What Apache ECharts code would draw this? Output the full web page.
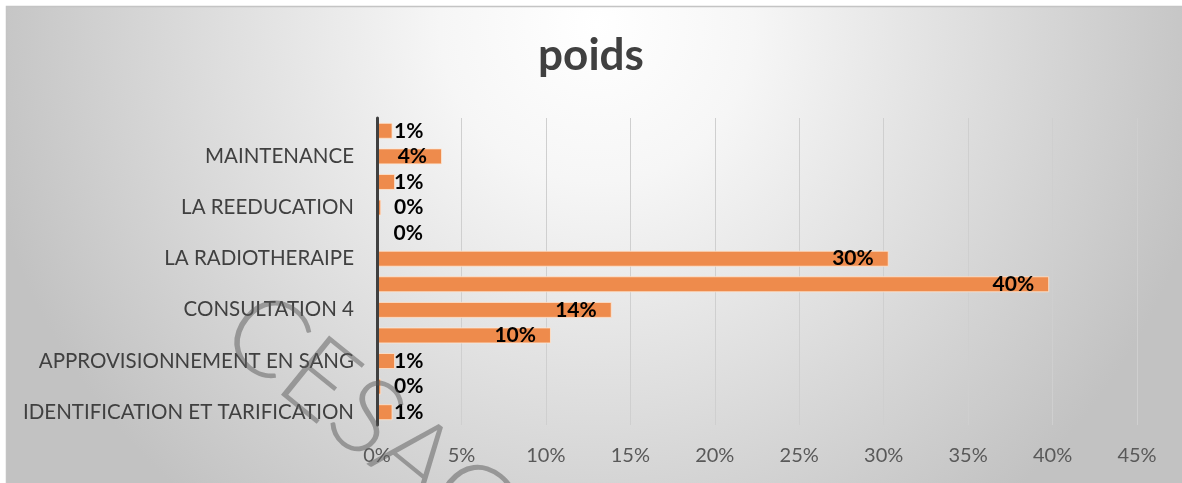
<!DOCTYPE html>
<html>
<head>
<meta charset="utf-8">
<script src="https://cdn.jsdelivr.net/npm/echarts@6/dist/echarts.min.js"></script>
<style>
html,body{margin:0;padding:0;background:#ffffff;}
#chart{width:1182px;height:483px;}
</style>
</head>
<body>
<div id="chart"></div>
<script>
// Categories from bottom to top (hidden ones are unlabeled in the source picture)
const categories = [
  "IDENTIFICATION ET TARIFICATION",
  "ACCUEIL",
  "APPROVISIONNEMENT EN SANG",
  "CONSULTATION 3",
  "CONSULTATION 4",
  "CONSULTATION 5",
  "LA RADIOTHERAIPE",
  "LA CHIMIOTHERAPIE",
  "LA REEDUCATION",
  "LE LABORATOIRE",
  "MAINTENANCE",
  "LA LOGISTIQUE"
];
const poids = [0.92, 0.25, 1.07, 10.3, 13.9, 39.8, 30.3, 0, 0.25, 1.07, 3.85, 0.92];
const xTicks = { min: 0, max: 45, step: 5 };
const titleText = "poids";
const watermark = "CESAG";

const chart = echarts.init(document.getElementById('chart'), null, { renderer: 'canvas' });
const FONT = 'Lato, "Open Sans", sans-serif';

const seriesData = poids.map(v => ({
  value: v,
  label: v < 2.5
    ? { position: 'insideLeft', distance: 17 }
    : { position: 'insideRight', distance: 15 }
}));

chart.setOption({
  animation: false,
  backgroundColor: '#ffffff',
  graphic: [
    {
      type: 'rect', z: -10, silent: true,
      shape: { x: 6.5, y: 6.5, width: 1180, height: 480 },
      style: {
        fill: new echarts.graphic.RadialGradient(0.5, 0.04, 1.3, [
          { offset: 0, color: '#ffffff' },
          { offset: 0.25, color: '#f6f6f6' },
          { offset: 0.6, color: '#dedede' },
          { offset: 1, color: '#c2c2c2' }
        ]),
        stroke: '#c4c4c4', lineWidth: 1.5
      }
    },
    {
      type: 'text', z: 100, silent: true,
      x: 370, y: 422, rotation: -0.68,
      style: {
        text: watermark,
        font: '300 108px Lato, "Open Sans", sans-serif',
        fill: 'rgba(90,90,90,0.5)',
        textAlign: 'center', textVerticalAlign: 'middle'
      }
    }
  ],
  title: {
    text: titleText,
    left: 'center',
    top: 29,
    textStyle: { fontFamily: FONT, fontWeight: 'bold', fontSize: 44, color: '#404040' }
  },
  grid: { left: 377, right: 45, top: 118, bottom: 58, containLabel: false },
  xAxis: {
    type: 'value',
    min: xTicks.min, max: xTicks.max, interval: xTicks.step,
    axisLine: { show: false },
    axisTick: { show: false },
    splitLine: { show: true, lineStyle: { color: '#cfcfcf', width: 1 } },
    axisLabel: {
      formatter: '{value}%', margin: 21,
      fontFamily: FONT, fontSize: 20, color: '#595959'
    }
  },
  yAxis: {
    type: 'category',
    z: 5,
    data: categories,
    axisLine: { show: true, lineStyle: { color: '#404040', width: 3 } },
    axisTick: { show: false },
    splitLine: { show: false },
    axisLabel: {
      interval: 1, margin: 23,
      fontFamily: FONT, fontSize: 20.5, color: '#404040'
    }
  },
  series: [{
    type: 'bar',
    data: seriesData,
    barWidth: 16,
    itemStyle: { color: '#ee8b4c', borderColor: 'rgba(255,230,210,0.8)', borderWidth: 1 },
    label: {
      show: true,
      formatter: p => Math.round(p.value) + '%',
      fontFamily: FONT, fontWeight: 'bold', fontSize: 21, color: '#000000'
    }
  }]
});
</script>
</body>
</html>
